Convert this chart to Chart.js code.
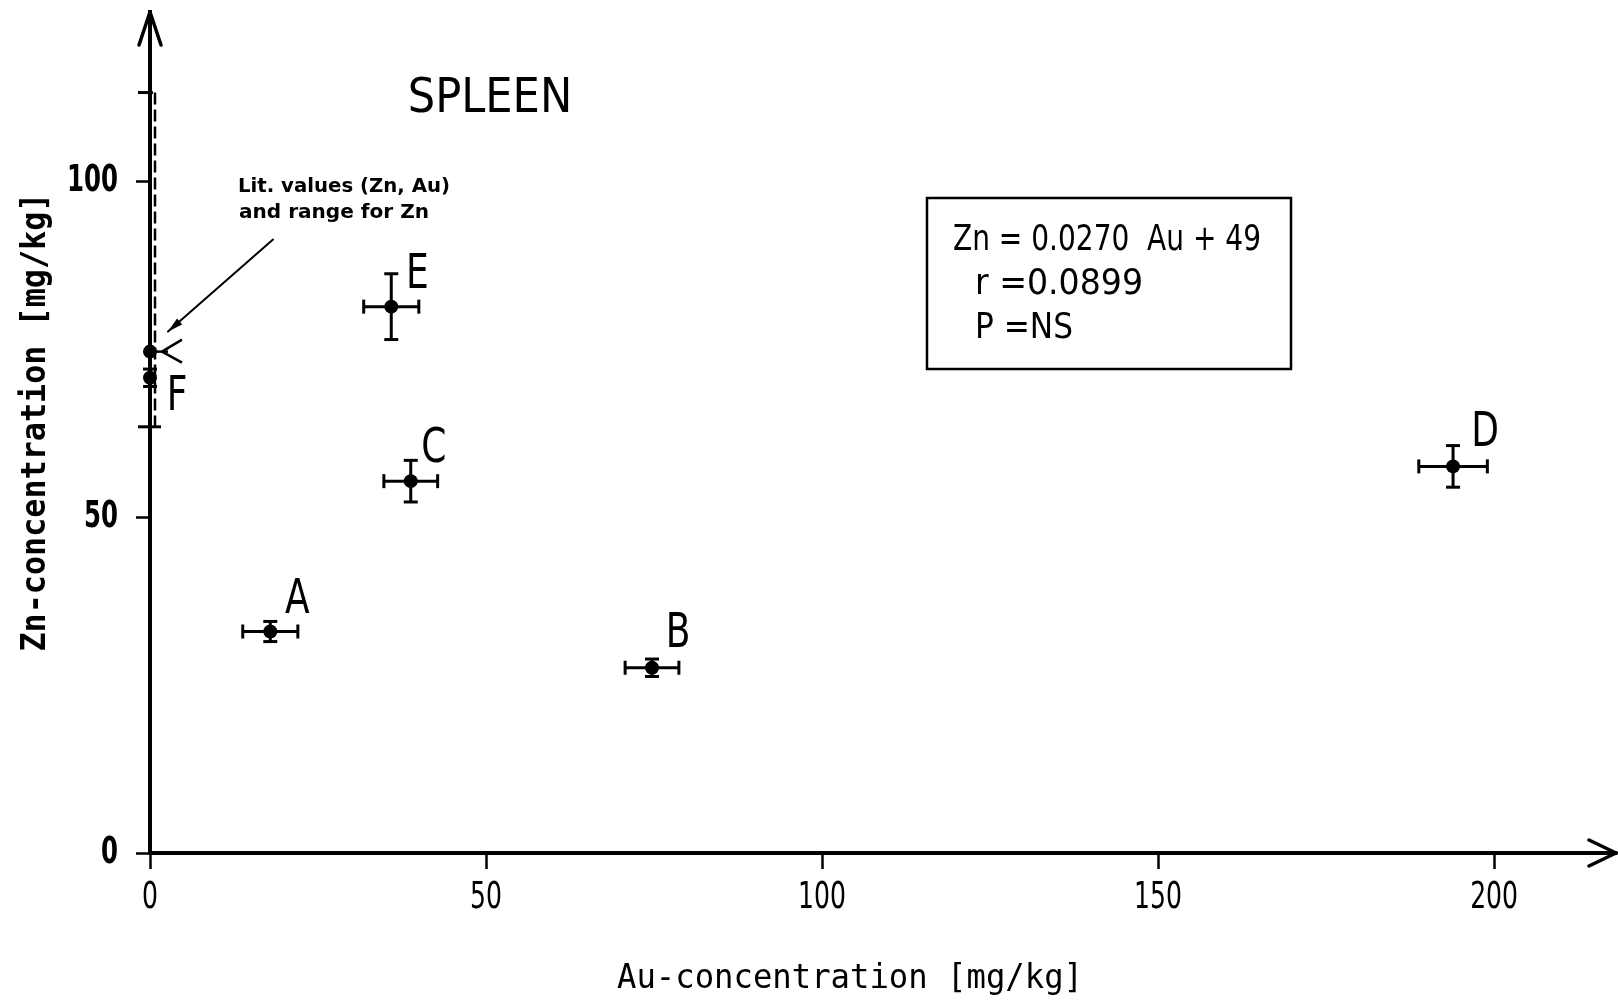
<!DOCTYPE html>
<html>
<head>
<meta charset="utf-8">
<title>Spleen - Zn vs Au</title>
<script src="https://cdn.jsdelivr.net/npm/chart.js@4/dist/chart.umd.min.js"></script>
<style>
html, body { margin: 0; padding: 0; background: #fff; }
</style>
</head>
<body>
<canvas id="chart" width="1618" height="1005"></canvas>
<script>
// samples A-F, mean values (mg/kg)
const sampleNames = ['A', 'B', 'C', 'D', 'E', 'F'];
const auValues = [17.9, 74.7, 38.8, 193.9, 35.9, 0];
const znValues = [33.0, 27.6, 55.4, 57.6, 81.4, 70.8];
const auErrors = [4.1, 4.0, 4.0, 5.1, 4.1, 0];
const znErrors = [1.5, 1.3, 3.1, 3.1, 4.9, 1.3];

// literature value (Zn, Au) and literature range for Zn
const litAu = [0];
const litZn = [74.7];
const litZnRange = [63.5, 113.3];

const xTicks = [0, 50, 100, 150, 200];
const yTicks = [0, 50, 100];

const regressionText = ['Zn = 0.0270  Au + 49', 'r =0.0899', 'P =NS'];
const litNote = ['Lit. values (Zn, Au)', 'and range for Zn'];
const xTitle = 'Au-concentration [mg/kg]';
const yTitle = 'Zn-concentration [mg/kg]';

// draw text squeezed to a given width (the original lettering is narrow)
function fitText(ctx, text, x, y, font, width, align) {
    ctx.font = font;
    const w = ctx.measureText(text).width;
    ctx.save();
    ctx.translate(x, y);
    ctx.scale(width / w, 1);
    ctx.textAlign = align || 'left';
    ctx.textBaseline = 'middle';
    ctx.fillText(text, 0, 0);
    ctx.restore();
}

function scaledText(ctx, text, x, y, font, sx, align) {
    ctx.save();
    ctx.font = font;
    ctx.translate(x, y);
    ctx.scale(sx, 1);
    ctx.textAlign = align || 'center';
    ctx.textBaseline = 'middle';
    ctx.fillText(text, 0, 0);
    ctx.restore();
}

function line(ctx, x1, y1, x2, y2) {
    ctx.beginPath();
    ctx.moveTo(x1, y1);
    ctx.lineTo(x2, y2);
    ctx.stroke();
}

// no extra room for labels: the chart area must sit exactly on the axes
function noPadding(s) {
    s.paddingTop = 0;
    s.paddingBottom = 0;
    s.paddingLeft = 0;
    s.paddingRight = 0;
}

const spleenPlugin = {
    id: 'spleen',
    beforeDatasetsDraw(chart) {
        const ctx = chart.ctx;
        const xs = chart.scales.x, ys = chart.scales.y;
        const cap = 7;
        ctx.save();
        ctx.strokeStyle = '#000';
        ctx.lineWidth = 3;

        // error bars
        sampleNames.forEach((name, i) => {
            const px = xs.getPixelForValue(auValues[i]);
            const py = ys.getPixelForValue(znValues[i]);
            if (auErrors[i] > 0) {
                const l = xs.getPixelForValue(auValues[i] - auErrors[i]);
                const r = xs.getPixelForValue(auValues[i] + auErrors[i]);
                line(ctx, l, py, r, py);
                line(ctx, l, py - cap, l, py + cap);
                line(ctx, r, py - cap, r, py + cap);
            }
            if (znErrors[i] > 0) {
                const t = ys.getPixelForValue(znValues[i] + znErrors[i]);
                const b = ys.getPixelForValue(znValues[i] - znErrors[i]);
                line(ctx, px, t, px, b);
                line(ctx, px - cap, t, px + cap, t);
                line(ctx, px - cap, b, px + cap, b);
            }
        });

        // literature range for Zn (dashed)
        const lx = xs.getPixelForValue(litAu[0]);
        const ly = ys.getPixelForValue(litZn[0]);
        const rt = ys.getPixelForValue(litZnRange[1]);
        const rb = ys.getPixelForValue(litZnRange[0]);
        ctx.save();
        ctx.lineWidth = 2.5;
        ctx.setLineDash([12, 5]);
        line(ctx, lx + 5, rt, lx + 5, rb);
        ctx.restore();
        line(ctx, lx - 12, rt, lx + 3, rt);
        line(ctx, lx - 12, rb, lx + 11, rb);

        // marker at the literature value
        ctx.lineWidth = 2.5;
        line(ctx, lx, ly, lx + 18, ly);
        line(ctx, lx + 12, ly, lx + 32, ly - 12);
        line(ctx, lx + 12, ly, lx + 32, ly + 11);
        ctx.restore();
    },
    afterDraw(chart) {
        const ctx = chart.ctx;
        const area = chart.chartArea;
        const xs = chart.scales.x, ys = chart.scales.y;
        ctx.save();
        ctx.strokeStyle = '#000';
        ctx.fillStyle = '#000';
        ctx.lineWidth = 3.5;
        ctx.lineCap = 'round';

        // axis arrows (x axis runs on a little past the plot edge)
        const ax = area.right + 5;
        ctx.lineWidth = 4;
        line(ctx, area.right - 2, area.bottom, ax, area.bottom);
        ctx.lineWidth = 3.5;
        line(ctx, area.left, area.top, area.left - 11, area.top + 33);
        line(ctx, area.left, area.top, area.left + 11, area.top + 33);
        line(ctx, ax, area.bottom, ax - 27, area.bottom - 13);
        line(ctx, ax, area.bottom, ax - 27, area.bottom + 13);

        // tick labels, narrow lettering
        xs.ticks.forEach(t => {
            scaledText(ctx, String(t.value), xs.getPixelForValue(t.value), area.bottom + 45, '38px "DejaVu Sans"', 0.66);
        });
        ys.ticks.forEach(t => {
            scaledText(ctx, String(t.value), 118, ys.getPixelForValue(t.value), 'bold 37px "DejaVu Sans"', 0.66, 'right');
        });

        // axis titles
        fitText(ctx, xTitle, 850, 979, '33px "DejaVu Sans Mono"', 466, 'center');
        ctx.save();
        ctx.translate(36, 422);
        ctx.rotate(-Math.PI / 2);
        fitText(ctx, yTitle, 0, 0, 'bold 33px "DejaVu Sans Mono"', 459, 'center');
        ctx.restore();

        // sample letters
        const nudge = { A: [27, -31], B: [26, -33], C: [23, -32], D: [32, -33], E: [26, -31], F: [27, 20] };
        sampleNames.forEach((name, i) => {
            const px = xs.getPixelForValue(auValues[i]);
            const py = ys.getPixelForValue(znValues[i]);
            scaledText(ctx, name, px + nudge[name][0], py + nudge[name][1], '48px "DejaVu Sans"', 0.75);
        });

        // title
        scaledText(ctx, 'SPLEEN', 490, 100, '48px "DejaVu Sans"', 0.9);

        // note and arrow pointing to the literature range
        const lx = xs.getPixelForValue(litAu[0]);
        const ly = ys.getPixelForValue(litZn[0]);
        fitText(ctx, litNote[0], lx + 88, ly - 165, 'bold 20px "DejaVu Sans"', 212);
        fitText(ctx, litNote[1], lx + 89, ly - 139, 'bold 20px "DejaVu Sans"', 190);
        ctx.lineWidth = 2;
        const hx = lx + 18, hy = ly - 20, tx = lx + 123, ty = ly - 112;
        line(ctx, tx, ty, hx, hy);
        const ang = Math.atan2(hy - ty, hx - tx);
        ctx.beginPath();
        ctx.moveTo(hx, hy);
        ctx.lineTo(hx - 16 * Math.cos(ang - 0.25), hy - 16 * Math.sin(ang - 0.25));
        ctx.lineTo(hx - 16 * Math.cos(ang + 0.25), hy - 16 * Math.sin(ang + 0.25));
        ctx.closePath();
        ctx.fill();

        // regression box
        ctx.lineWidth = 2.5;
        ctx.lineCap = 'butt';
        ctx.strokeRect(927, 198, 364, 171);
        fitText(ctx, regressionText[0], 953, 241, '35px "DejaVu Sans"', 308);
        fitText(ctx, regressionText[1], 975, 285, '35px "DejaVu Sans"', 168);
        fitText(ctx, regressionText[2], 975, 329, '35px "DejaVu Sans"', 98);
        ctx.restore();
    }
};

const ctx = document.getElementById('chart').getContext('2d');
new Chart(ctx, {
    type: 'scatter',
    data: {
        datasets: [{
            label: 'Samples',
            data: auValues.map((au, i) => ({ x: au, y: znValues[i] })),
            backgroundColor: '#000',
            borderWidth: 0,
            pointRadius: 7,
            clip: false
        }, {
            label: 'Literature',
            data: litAu.map((au, i) => ({ x: au, y: litZn[i] })),
            backgroundColor: '#000',
            borderWidth: 0,
            pointRadius: 7,
            clip: false
        }]
    },
    options: {
        responsive: false,
        devicePixelRatio: 1,
        animation: false,
        layout: { padding: { top: 12, right: 0, left: 0, bottom: 0 } },
        plugins: {
            legend: { display: false },
            tooltip: { enabled: false }
        },
        scales: {
            x: {
                type: 'linear',
                position: 'bottom',
                min: 0,
                max: 217.4,
                afterBuildTicks: s => { s.ticks = xTicks.map(v => ({ value: v })); },
                afterFit: s => { s.height = 152; noPadding(s); },
                grid: { drawOnChartArea: false, drawTicks: true, tickLength: 16, tickColor: '#000', tickWidth: 2.5 },
                border: { display: true, color: '#000', width: 4 },
                ticks: { display: false }
            },
            y: {
                type: 'linear',
                min: 0,
                max: 125.3,
                afterBuildTicks: s => { s.ticks = yTicks.map(v => ({ value: v })); },
                afterFit: s => { s.width = 150; noPadding(s); },
                grid: { drawOnChartArea: false, drawTicks: true, tickLength: 14, tickColor: '#000', tickWidth: 2.5 },
                border: { display: true, color: '#000', width: 4 },
                ticks: { display: false }
            }
        }
    },
    plugins: [spleenPlugin]
});
</script>
</body>
</html>
